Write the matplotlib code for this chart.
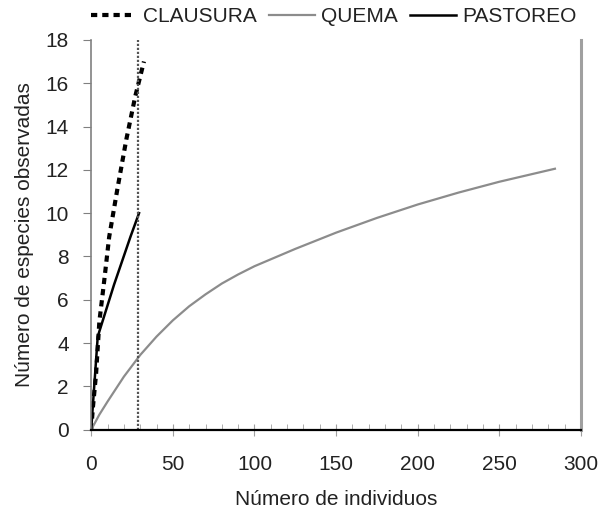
import numpy as np
import matplotlib.pyplot as plt
from matplotlib.ticker import MultipleLocator

plt.rcParams['font.family'] = ['Liberation Sans', 'DejaVu Sans']

# Rarefaction curves
clausura_x = [0, 1, 3, 5, 8, 11, 16, 21.5, 27, 32.3]
clausura_y = [0, 1, 2.6, 5.0, 6.9, 8.9, 11.1, 13.4, 15.4, 17]

quema_x = [0, 5, 10, 20, 30, 40, 50, 60, 70, 80, 90, 100, 125, 150, 175, 200, 225, 250, 284]
quema_y = [0, 0.7, 1.3, 2.45, 3.45, 4.3, 5.05, 5.7, 6.25, 6.75, 7.17, 7.55, 8.35, 9.1, 9.78, 10.4, 10.95, 11.45, 12.05]

pastoreo_x = [0, 1, 4, 9, 14, 19, 24, 29.3]
pastoreo_y = [0, 1.1, 4.3, 5.5, 6.7, 7.8, 8.9, 10]

cutoff_x = 28.7

fig = plt.figure(figsize=(6.04, 5.11), dpi=100)
ax = fig.add_axes([0.151, 0.159, 0.811, 0.763])

ax.plot(clausura_x, clausura_y, color="black", lw=3, linestyle=(0, (1.5, 1.2)), label="CLAUSURA")
ax.plot(quema_x, quema_y, color="#8c8c8c", lw=1.6, label="QUEMA")
ax.plot(pastoreo_x, pastoreo_y, color="black", lw=1.8, label="PASTOREO")
ax.axvline(cutoff_x, color="#555555", lw=1.6, linestyle=(0, (1, 0.8)))

ax.set_xlim(0, 300)
ax.set_ylim(0, 18)
ax.xaxis.set_major_locator(MultipleLocator(50))
ax.xaxis.set_minor_locator(MultipleLocator(10))
ax.yaxis.set_major_locator(MultipleLocator(2))

ax.spines["top"].set_visible(False)
ax.spines["bottom"].set_color("black")
ax.spines["bottom"].set_linewidth(1.6)
ax.spines["left"].set_color("#808080")
ax.spines["left"].set_linewidth(1.2)
ax.spines["right"].set_color("#a0a0a0")
ax.spines["right"].set_linewidth(2.2)

ax.tick_params(axis="x", which="major", direction="inout", length=8, color="#a0a0a0",
               labelsize=15, pad=14, labelcolor="#222222")
ax.tick_params(axis="x", which="minor", direction="in", length=4, color="#a0a0a0")
ax.tick_params(axis="y", which="major", direction="out", length=6, color="#808080",
               labelsize=15, pad=10, labelcolor="#222222")
ax.tick_params(axis="y", right=False)

ax.set_xlabel("Número de individuos", fontsize=15, labelpad=12, color="#222222")
ax.set_ylabel("Número de especies observadas", fontsize=15, labelpad=8, color="#222222")

ax.legend(loc="center", bbox_to_anchor=(0.495, 1.06), ncol=3, frameon=False,
          fontsize=15, handlelength=2.2, handletextpad=0.3, columnspacing=0.6,
          labelcolor="#222222")

plt.savefig("out.png", dpi=100)
